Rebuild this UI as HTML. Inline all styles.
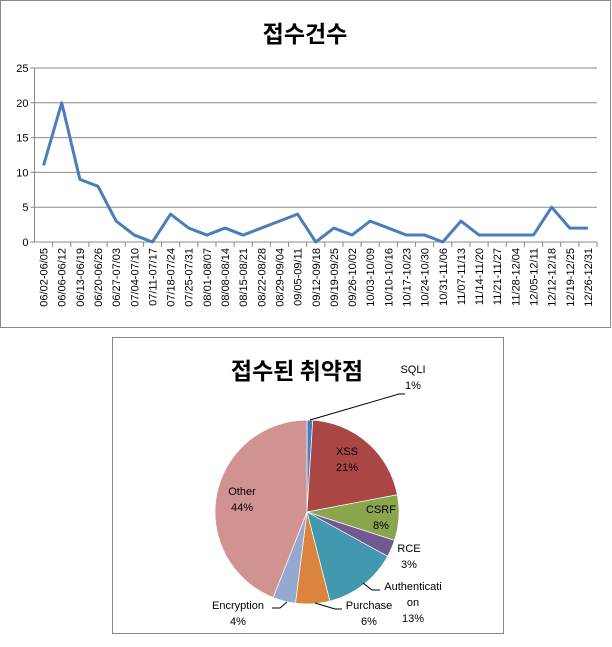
<!DOCTYPE html>
<html><head><meta charset="utf-8"><style>
body{margin:0;width:612px;height:647px;background:#fff;overflow:hidden;font-family:"Liberation Sans","Noto Sans CJK KR",sans-serif}
svg{position:absolute;left:0;top:0}
</style></head><body>
<svg width="612" height="647">
<rect x="0.5" y="0.5" width="610" height="327" fill="#fff" stroke="#888"/>
<text x="305" y="42" text-anchor="middle" font-size="23" font-weight="bold" font-family="'Noto Sans CJK KR',sans-serif">접수건수</text>
<g id="lc"></g>
<rect x="112.5" y="337.5" width="391" height="296" fill="#fff" stroke="#888"/>
<text x="297" y="379" text-anchor="middle" font-size="23" font-weight="bold" font-family="'Noto Sans CJK KR',sans-serif">접수된 취약점</text>
<g id="pc"></g>
</svg>
<script>
const categories=["06/02-06/05","06/06-06/12","06/13-06/19","06/20-06/26","06/27-07/03","07/04-07/10","07/11-07/17","07/18-07/24","07/25-07/31","08/01-08/07","08/08-08/14","08/15-08/21","08/22-08/28","08/29-09/04","09/05-09/11","09/12-09/18","09/19-09/25","09/26-10/02","10/03-10/09","10/10-10/16","10/17-10/23","10/24-10/30","10/31-11/06","11/07-11/13","11/14-11/20","11/21-11/27","11/28-12/04","12/05-12/11","12/12-12/18","12/19-12/25","12/26-12/31"];
const counts=[11,20,9,8,3,1,0,4,2,1,2,1,2,3,4,0,2,1,3,2,1,1,0,3,1,1,1,1,5,2,2];
const yTicks=[0,5,10,15,20,25];
const pieLabels=["SQLI","XSS","CSRF","RCE","Authentication","Purchase","Encryption","Other"];
const pieValues=[1,21,8,3,13,6,4,44];
const pieColors=["#4a7ebb","#aa4643","#89a54e","#71588f","#4198af","#db843d","#93a9cf","#d19392"];
const NS="http://www.w3.org/2000/svg";
function mk(t,a,p){const e=document.createElementNS(NS,t);for(const k in a)e.setAttribute(k,a[k]);p.appendChild(e);return e;}
const lc=document.getElementById('lc');
const X0=34.5,X1=597,Y0=242,Y1=68,YMAX=25;
const bw=(X1-X0)/categories.length;
const xs=i=>X0+bw*(i+0.5);
const ys=v=>Y0-(Y0-Y1)*v/YMAX;
yTicks.forEach(t=>{
 const l=mk('line',{x1:X0-4,x2:X1,y1:ys(t),y2:ys(t),stroke:t===0?'#888':'#888','stroke-width':1},lc);
 
 
 const tx=mk('text',{x:X0-6,y:ys(t)+4,'text-anchor':'end','font-size':11},lc);
 tx.textContent=t;
 
 
});
const ax=mk('line',{x1:X0,x2:X0,y1:Y1,y2:Y0,stroke:'#888'},lc);


categories.forEach((c,i)=>{
 const tk=mk('line',{x1:X0+bw*(i+1),x2:X0+bw*(i+1),y1:Y0,y2:Y0+5,stroke:'#888'},lc);
 
 
 const x=xs(i)+4,y=Y0+6;
 const tx=mk('text',{x:x,y:y,'text-anchor':'end','font-size':11,transform:`rotate(-90 ${x} ${y})`},lc);
 tx.textContent=c;
 
 
});
const pl=mk('polyline',{points:counts.map((v,i)=>xs(i)+','+ys(v)).join(' '),fill:'none',stroke:'#4a7ebb','stroke-width':3,'stroke-linejoin':'round'},lc);


// pie
const pc=document.getElementById('pc');
const CX=307,CY=512,R=92;
const tot=pieValues.reduce((a,b)=>a+b,0);
let a0=0;
pieValues.forEach((v,i)=>{
 const a1=a0+v/tot*2*Math.PI;
 const p=(a)=>[CX+R*Math.sin(a),CY-R*Math.cos(a)];
 const s=p(a0),e=p(a1);
 const path=mk('path',{d:`M${CX},${CY}L${s[0]},${s[1]}A${R},${R} 0 ${a1-a0>Math.PI?1:0} 1 ${e[0]},${e[1]}Z`,fill:pieColors[i],stroke:'#fff','stroke-width':0.7},pc);
 
 
 a0=a1;
});
const labelPos=[[413,373,["SQLI","1%"]],[347,455,["XSS","21%"]],[381,513,["CSRF","8%"]],[409,552,["RCE","3%"]],[413,590,["Authenticati","on","13%"]],[369,609,["Purchase","6%"]],[238,609,["Encryption","4%"]],[242,495,["Other","44%"]]];
labelPos.forEach((lp,i)=>{
 const t=mk('text',{x:lp[0],y:lp[1],'text-anchor':'middle','font-size':11},pc);
 
 
 lp[2].forEach((s,j)=>{const ts=mk('tspan',{x:lp[0],dy:j?16:0},t);ts.textContent=s;});
 t.lastChild.textContent=Math.round(pieValues[i]/tot*100)+'%';
});
[["405,394 399,394 310,420","sqli"],["363,583 372,590 380,590","authentication"],["315,603 335,609 342,609","purchase"],["287,602 280,608 272,608","encryption"]].forEach(l=>{
 const e=mk('polyline',{points:l[0],fill:'none',stroke:'#000','stroke-width':1},pc);
 
 
});
</script>
</body></html>
